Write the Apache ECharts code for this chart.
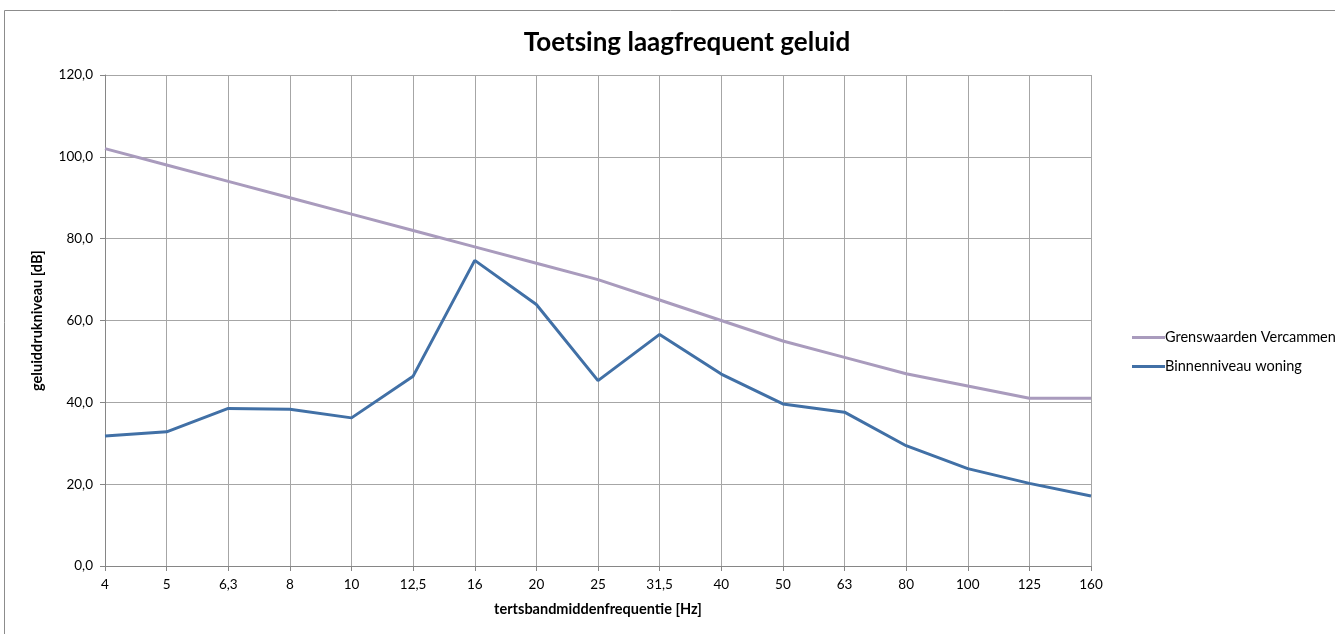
<!DOCTYPE html>
<html>
<head>
<meta charset="utf-8">
<script src="https://cdn.jsdelivr.net/npm/echarts@6/dist/echarts.min.js"></script>
<style>html,body{margin:0;padding:0;background:#fff}#c{width:1335px;height:634px}</style>
</head>
<body>
<div id="c"></div>
<script>
const categories = ['4','5','6,3','8','10','12,5','16','20','25','31,5','40','50','63','80','100','125','160'];
const grenswaarden = [102,98,94,90,86,82,78,74,70,65,60,55,51,47,44,41,41];
const binnenniveau = [31.8,32.8,38.5,38.3,36.2,46.4,74.7,63.9,45.3,56.6,46.9,39.6,37.6,29.4,23.8,20.2,17.1];
const seriesNames = ['Grenswaarden Vercammen','Binnenniveau woning'];
const FONT = 'Lato, "Open Sans", sans-serif';

const chart = echarts.init(document.getElementById('c'));
chart.setOption({
  animation: false,
  backgroundColor: '#fff',
  textStyle: { fontFamily: FONT },
  title: {
    text: 'Toetsing laagfrequent geluid',
    left: 682, top: 25, textAlign: 'center',
    textStyle: { fontFamily: FONT, fontSize: 26, fontWeight: 'bold', color: '#000' }
  },
  graphic: [{
    type: 'rect', silent: true,
    shape: { x: 4.5, y: 10.5, width: 1340, height: 640 },
    style: { fill: 'none', stroke: '#8c8c8c', lineWidth: 1 }
  }],
  legend: {
    orient: 'vertical', left: 1127, top: 325, itemGap: 14,
    itemWidth: 33, itemHeight: 3, icon: 'rect',
    textStyle: { fontFamily: FONT, fontSize: 14.5, color: '#000', padding: [0,0,0,-5] },
    data: seriesNames
  },
  grid: { left: 105, right: 244, top: 75, bottom: 68, containLabel: false },
  xAxis: {
    type: 'category', data: categories, boundaryGap: false,
    name: 'tertsbandmiddenfrequentie [Hz]', nameLocation: 'middle', nameGap: 36,
    nameTextStyle: { fontFamily: FONT, fontSize: 14.5, fontWeight: 'bold', color: '#000' },
    axisLine: { lineStyle: { color: '#868686', width: 1 } },
    axisTick: { show: true, length: 5, lineStyle: { color: '#868686' } },
    axisLabel: { color: '#000', fontSize: 13.5, margin: 12, fontFamily: FONT },
    splitLine: { show: true, lineStyle: { color: '#a6a6a6', width: 1 } }
  },
  yAxis: {
    type: 'value', min: 0, max: 120, interval: 20,
    name: 'geluiddrukniveau [dB]', nameLocation: 'middle', nameGap: 60, nameRotate: 90,
    nameTextStyle: { fontFamily: FONT, fontSize: 14.5, fontWeight: 'bold', color: '#000' },
    axisLine: { show: true, lineStyle: { color: '#868686', width: 1 } },
    axisTick: { show: true, length: 5, lineStyle: { color: '#868686' } },
    axisLabel: { color: '#000', fontSize: 13.5, margin: 12, fontFamily: FONT,
      formatter: v => v.toFixed(1).replace('.', ',') },
    splitLine: { show: true, lineStyle: { color: '#a6a6a6', width: 1 } }
  },
  series: [
    { name: seriesNames[0], type: 'line', data: grenswaarden, showSymbol: false, symbol: 'none',
      lineStyle: { color: '#a99bbd', width: 3 }, itemStyle: { color: '#a99bbd' } },
    { name: seriesNames[1], type: 'line', data: binnenniveau, showSymbol: false, symbol: 'none',
      lineStyle: { color: '#4170a6', width: 3 }, itemStyle: { color: '#4170a6' } }
  ]
});
</script>
</body>
</html>
